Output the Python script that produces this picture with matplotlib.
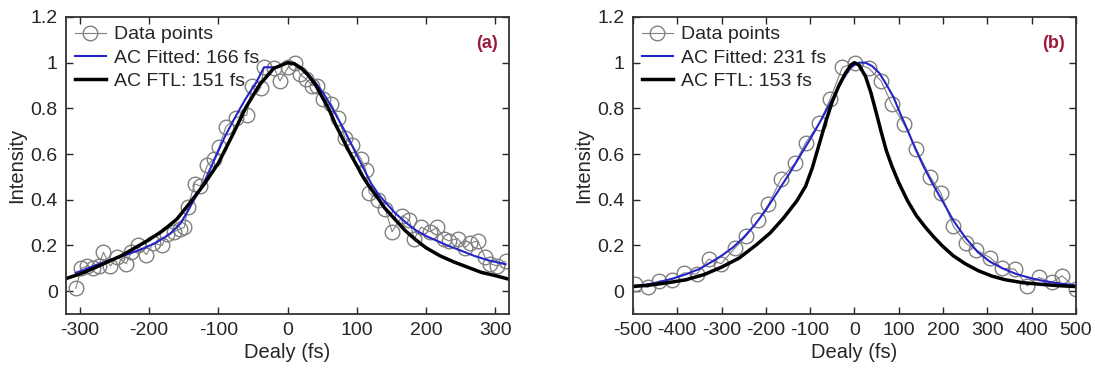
import numpy as np
import matplotlib
matplotlib.use("Agg")
import matplotlib.pyplot as plt
from matplotlib.ticker import FormatStrFormatter

plt.rcParams['font.family'] = ['Liberation Sans', 'DejaVu Sans']
plt.rcParams['axes.unicode_minus'] = False

# ---- panel (a) ----
a_delay = [-306, -298, -289, -281, -273, -266, -256, -246, -233, -226, -216, -204,
           -194, -181, -174, -164, -156, -149, -144, -134, -126, -116, -106, -99,
           -89, -74, -59, -51, -39, -34, -19, -11, 1, 11, 18, 26, 36, 43, 51, 63,
           73, 83, 93, 106, 113, 118, 131, 141, 151, 166, 176, 183, 193, 206, 216,
           226, 233, 246, 256, 263, 275, 285, 293, 303, 315]
a_data = [0.012, 0.10, 0.11, 0.10, 0.11, 0.17, 0.11, 0.15, 0.12, 0.17, 0.20, 0.16,
          0.21, 0.20, 0.25, 0.26, 0.27, 0.28, 0.37, 0.47, 0.46, 0.55, 0.58, 0.63,
          0.72, 0.76, 0.77, 0.90, 0.89, 0.98, 0.975, 0.92, 0.98, 1.00, 0.95, 0.93,
          0.90, 0.90, 0.84, 0.82, 0.76, 0.67, 0.64, 0.58, 0.53, 0.43, 0.40, 0.36,
          0.26, 0.33, 0.31, 0.23, 0.28, 0.26, 0.28, 0.23, 0.22, 0.23, 0.19, 0.21,
          0.22, 0.15, 0.12, 0.11, 0.13]

a_fit_x = [-306, -290, -270, -250, -230, -210, -190, -170, -155, -145, -135, -120,
           -105, -90, -75, -60, -45, -34, -16, -8, 0, 10, 21, 31, 41, 51, 61, 71,
           81, 91, 101, 111, 121, 131, 141, 156, 171, 186, 201, 216, 231, 250, 270,
           290, 315]
a_fit_y = [0.080, 0.098, 0.122, 0.142, 0.162, 0.185, 0.212, 0.250, 0.295, 0.345,
           0.40, 0.48, 0.58, 0.68, 0.765, 0.845, 0.915, 0.98, 0.98, 0.99, 1.0, 0.995,
           0.975, 0.945, 0.91, 0.87, 0.82, 0.765, 0.71, 0.65, 0.59, 0.53, 0.47,
           0.425, 0.39, 0.34, 0.30, 0.265, 0.24, 0.22, 0.20, 0.178, 0.154, 0.135,
           0.118]

a_ftl_x = [-320, -300, -280, -260, -240, -220, -200, -180, -160, -140, -120, -100,
           -80, -60, -40, -20, 0, 10, 20, 30, 40, 50, 60, 70, 80, 90, 100, 110, 120,
           130, 140, 155, 170, 185, 200, 220, 240, 260, 280, 300, 320]
a_ftl_y = [0.055, 0.075, 0.10, 0.128, 0.155, 0.19, 0.225, 0.265, 0.315, 0.39, 0.47,
           0.56, 0.68, 0.805, 0.905, 0.975, 1.0, 0.995, 0.975, 0.945, 0.905, 0.85,
           0.795, 0.725, 0.665, 0.605, 0.55, 0.495, 0.45, 0.41, 0.365, 0.315,
           0.265, 0.225, 0.19, 0.155, 0.128, 0.105, 0.082, 0.068, 0.052]

# ---- panel (b) ----
b_delay = [-495, -467, -440, -412, -384, -356, -329, -301, -269, -245, -217, -194,
           -166, -134, -110, -79, -55, -27, 1, 33, 60, 84, 112, 140, 171, 195, 223,
           251, 275, 306, 334, 362, 390, 417, 445, 469, 501]
b_data = [0.03, 0.016, 0.045, 0.05, 0.08, 0.074, 0.14, 0.12, 0.19, 0.24, 0.31,
          0.38, 0.49, 0.56, 0.65, 0.735, 0.84, 0.98, 1.0, 0.975, 0.92, 0.82, 0.73,
          0.62, 0.50, 0.43, 0.285, 0.21, 0.18, 0.147, 0.10, 0.096, 0.023, 0.06,
          0.038, 0.067, 0.009]

b_fit_x = [-500, -470, -440, -410, -380, -350, -325, -300, -275, -250, -225, -200,
           -175, -150, -125, -100, -75, -50, -25, -10, 0, 10, 25, 40, 56, 72, 88,
           105, 120, 136, 155, 175, 200, 223, 250, 279, 305, 334, 365, 398, 430,
           465, 500]
b_fit_y = [0.02, 0.028, 0.04, 0.055, 0.074, 0.097, 0.125, 0.155, 0.19, 0.235,
           0.29, 0.355, 0.43, 0.505, 0.585, 0.665, 0.75, 0.84, 0.93, 0.975, 0.99,
           1.0, 1.0, 0.985, 0.955, 0.905, 0.85, 0.77, 0.705, 0.63, 0.55, 0.475,
           0.39, 0.31, 0.235, 0.17, 0.13, 0.10, 0.075, 0.057, 0.043, 0.033, 0.025]

b_ftl_x = [-500, -460, -420, -380, -340, -300, -260, -220, -190, -160, -130, -110,
           -95, -80, -65, -50, -35, -20, -8, 0, 10, 25, 37, 48, 60, 72, 85, 100,
           120, 140, 160, 180, 200, 223, 250, 279, 310, 340, 380, 420, 460, 500]
b_ftl_y = [0.02, 0.027, 0.037, 0.05, 0.072, 0.105, 0.145, 0.205, 0.255, 0.32, 0.395,
           0.46, 0.54, 0.64, 0.74, 0.83, 0.90, 0.955, 0.99, 1.0, 0.99, 0.94, 0.87,
           0.79, 0.70, 0.615, 0.545, 0.475, 0.395, 0.33, 0.28, 0.235, 0.195, 0.155,
           0.12, 0.09, 0.066, 0.05, 0.037, 0.03, 0.024, 0.02]

panels = [
    dict(x=a_delay, y=a_data, fx=a_fit_x, fy=a_fit_y, tx=a_ftl_x, ty=a_ftl_y,
         fit_lab='AC Fitted: 166 fs', ftl_lab='AC FTL: 151 fs', tag='(a)',
         xlim=(-320, 320), xticks=np.arange(-300, 301, 100)),
    dict(x=b_delay, y=b_data, fx=b_fit_x, fy=b_fit_y, tx=b_ftl_x, ty=b_ftl_y,
         fit_lab='AC Fitted: 231 fs', ftl_lab='AC FTL: 153 fs', tag='(b)',
         xlim=(-500, 500), xticks=np.arange(-500, 501, 100)),
]

fig = plt.figure(figsize=(10.95, 3.70), dpi=100)
lefts = [0.0603, 0.578]
txt = '#262626'

for left, p in zip(lefts, panels):
    ax = fig.add_axes([left, 0.1514, 0.4046, 0.8027])
    ax.plot(p['x'], p['y'], '-o', color='#808080', lw=0.8, ms=10.5,
            mfc='none', mec='#808080', mew=1.0, label='Data points')
    ax.plot(p['fx'], p['fy'], color='#2424c8', lw=1.5, label=p['fit_lab'])
    ax.plot(p['tx'], p['ty'], color='black', lw=2.5, label=p['ftl_lab'])

    ax.set_xlim(*p['xlim'])
    ax.set_ylim(-0.1, 1.2)
    ax.set_xticks(p['xticks'])
    ax.set_yticks(np.arange(0, 1.21, 0.2))
    ax.yaxis.set_major_formatter(FormatStrFormatter('%g'))
    ax.tick_params(direction='in', top=True, right=True, length=5, width=1.0,
                   labelsize=14, colors=txt, pad=6)
    for s in ax.spines.values():
        s.set_linewidth(1.3)
        s.set_color('#333333')
    ax.set_xlabel('Dealy (fs)', fontsize=14.5, color=txt, labelpad=3)
    ax.set_ylabel('Intensity', fontsize=14.5, color=txt, labelpad=3)
    ax.text(0.974, 0.91, p['tag'], transform=ax.transAxes, ha='right',
            va='center', fontsize=13, fontweight='bold', color='#9b1b3b')
    leg = ax.legend(loc='upper left', frameon=False, fontsize=14,
                    handlelength=1.6, handletextpad=0.4, borderaxespad=0.0,
                    labelspacing=0.3, borderpad=0.45)
    for t in leg.get_texts():
        t.set_color(txt)

fig.savefig('out.png', dpi=100)
